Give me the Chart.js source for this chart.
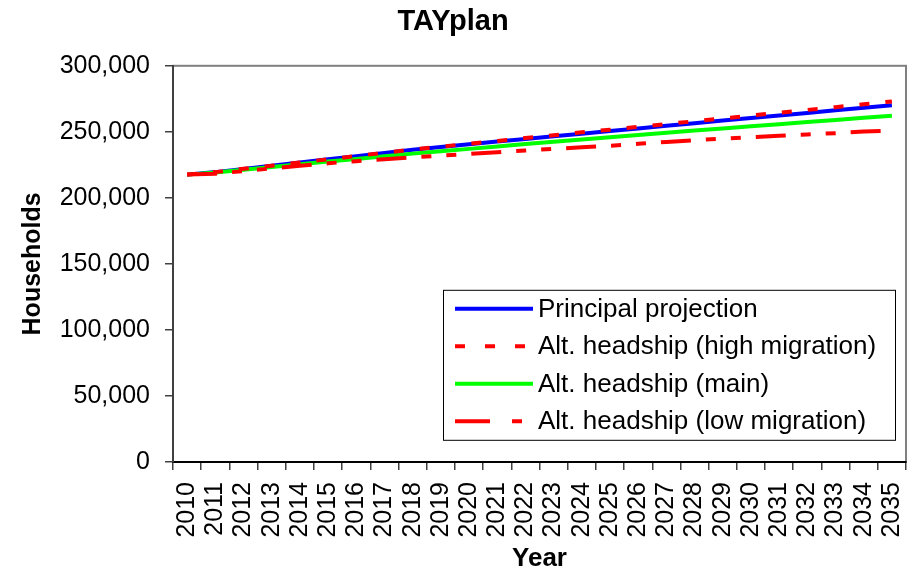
<!doctype html>
<html>
  <head>
    <title>TAYplan</title>
    <script src="https://cdn.jsdelivr.net/npm/chart.js@4/dist/chart.umd.min.js"></script>
    <style>
      body { margin: 0; background: #fff; }
      #wrap { width: 913px; height: 574px; }
    </style>
  </head>
  <body>
    <div id="wrap">
      <canvas id="tayChart" width="913" height="574"></canvas>
    </div>
    <script>
      // data (households)
      var years = ["2010", "2011", "2012", "2013", "2014", "2015", "2016", "2017", "2018",
        "2019", "2020", "2021", "2022", "2023", "2024", "2025", "2026", "2027", "2028",
        "2029", "2030", "2031", "2032", "2033", "2034", "2035"];

      var principal = [217600, 219500, 221900, 224300, 226800, 229200, 231600, 234000, 236400,
        238500, 240600, 242600, 244600, 246600, 248600, 250600, 252600, 254600, 256500,
        258500, 260400, 262400, 264300, 266300, 268200, 270200];

      var highMigration = [217600, 219500, 222000, 224400, 226800, 229200, 231700, 234200, 236600,
        238800, 241000, 243100, 245300, 247400, 249600, 251600, 253800, 255900, 258000,
        260200, 262300, 264400, 266600, 268700, 270900, 273000];

      var mainHeadship = [217600, 219200, 221300, 223400, 225500, 227500, 229500, 231500, 233500,
        235300, 237100, 238900, 240700, 242500, 244200, 245900, 247600, 249300, 251000,
        252600, 254200, 255800, 257400, 259000, 260600, 262200];

      var lowMigration = [217600, 218300, 220300, 222300, 224300, 226200, 227800, 229300, 230700,
        232000, 233300, 234600, 235900, 237100, 238300, 239500, 240900, 242300, 243700,
        244900, 246000, 247000, 248000, 249000, 250200, 251000];

      var seriesNames = ["Principal projection", "Alt. headship (high migration)",
        "Alt. headship (main)", "Alt. headship (low migration)"];

      var yTicks = [0, 50000, 100000, 150000, 200000, 250000, 300000];

      var fontFamily = "'Liberation Sans', Arial, Helvetica, sans-serif";
      var axisColor = "#404040";

      // grey frame round the plot area, axes draw over its left and bottom
      var framePlugin = {
        id: "frame",
        beforeDraw: function (chart) {
          var a = chart.chartArea;
          var ctx = chart.ctx;
          ctx.save();
          ctx.strokeStyle = "#808080";
          ctx.lineWidth = 2;
          ctx.strokeRect(a.left, a.top, a.right - a.left, a.bottom - a.top);
          ctx.restore();
        },
      };

      // legend box inside the plot, lower right
      var boxLegend = {
        id: "boxLegend",
        afterDraw: function (chart) {
          var a = chart.chartArea;
          var ctx = chart.ctx;
          var x0 = a.left + 270;
          var y0 = a.top + 224;
          var w = a.right - 11 - x0;
          var h = 150;
          ctx.save();
          ctx.fillStyle = "#fff";
          ctx.fillRect(x0, y0, w, h);
          ctx.strokeStyle = "#000";
          ctx.lineWidth = 1;
          ctx.strokeRect(x0 + 0.5, y0 + 0.5, w, h);
          ctx.font = "26px " + fontFamily;
          ctx.textBaseline = "middle";
          ctx.textAlign = "left";
          chart.data.datasets.forEach(function (ds, i) {
            var y = y0 + 19 + i * 37.5;
            ctx.beginPath();
            ctx.strokeStyle = ds.borderColor;
            ctx.lineWidth = 4;
            ctx.setLineDash(ds.legendDash || []);
            ctx.moveTo(x0 + 12, y);
            ctx.lineTo(x0 + 90, y);
            ctx.stroke();
            ctx.setLineDash([]);
            ctx.fillStyle = "#000";
            ctx.fillText(ds.label, x0 + 95, y + 1);
          });
          ctx.restore();
        },
      };

      var ctx = document.getElementById("tayChart").getContext("2d");
      var tayChart = new Chart(ctx, {
        type: "line",
        data: {
          labels: years,
          datasets: [
            {
              label: seriesNames[0],
              data: principal,
              borderColor: "#0000ff",
              borderWidth: 4,
              order: 4,
            },
            {
              label: seriesNames[1],
              data: highMigration,
              borderColor: "#ff0000",
              borderWidth: 4,
              borderDash: [10, 16],
              legendDash: [10, 20],
              order: 2,
            },
            {
              label: seriesNames[2],
              data: mainHeadship,
              borderColor: "#00ff00",
              borderWidth: 4,
              order: 3,
            },
            {
              label: seriesNames[3],
              data: lowMigration,
              borderColor: "#ff0000",
              borderWidth: 4,
              borderDash: [30, 15, 10, 15, 10, 15],
              legendDash: [35, 22, 10, 30],
              order: 1,
            },
          ],
        },
        options: {
          responsive: false,
          animation: false,
          layout: { padding: { left: 0, right: 7, top: 0, bottom: 0 } },
          elements: {
            point: { radius: 0 },
            line: { tension: 0, borderCapStyle: "butt" },
          },
          plugins: {
            legend: { display: false },
            tooltip: { enabled: false },
            title: {
              display: true,
              text: "TAYplan",
              color: "#000",
              font: { family: fontFamily, size: 29, weight: "bold" },
              padding: { top: 5, bottom: 26 },
            },
          },
          scales: {
            x: {
              type: "category",
              offset: true,
              grid: {
                offset: true,
                drawOnChartArea: false,
                tickLength: 8,
                color: axisColor,
                lineWidth: 1.5,
              },
              border: { color: "#000", width: 2 },
              ticks: {
                autoSkip: false,
                minRotation: 90,
                maxRotation: 90,
                padding: 12,
                color: "#000",
                font: { family: fontFamily, size: 25 },
              },
              title: {
                display: true,
                text: "Year",
                color: "#000",
                font: { family: fontFamily, size: 26, weight: "bold" },
                padding: { top: 0, bottom: 0 },
              },
              afterFit: function (scale) {
                scale.height = 112;
                scale.paddingLeft = 0;
                scale.paddingRight = 0;
              },
            },
            y: {
              min: 0,
              max: 300000,
              afterBuildTicks: function (scale) {
                scale.ticks = yTicks.map(function (v) { return { value: v }; });
              },
              grid: {
                drawOnChartArea: false,
                tickLength: 8,
                color: axisColor,
                lineWidth: 1.5,
              },
              border: { color: axisColor, width: 2 },
              ticks: {
                padding: 15,
                color: "#000",
                font: { family: fontFamily, size: 25 },
                callback: function (v) {
                  return Number(v).toLocaleString("en-US");
                },
              },
              title: {
                display: true,
                text: "Households",
                color: "#000",
                font: { family: fontFamily, size: 25, weight: "bold" },
                padding: { top: 18, bottom: 0 },
              },
              afterFit: function (scale) {
                scale.width = 173;
              },
            },
          },
        },
        plugins: [framePlugin, boxLegend],
      });
    </script>
  </body>
</html>
